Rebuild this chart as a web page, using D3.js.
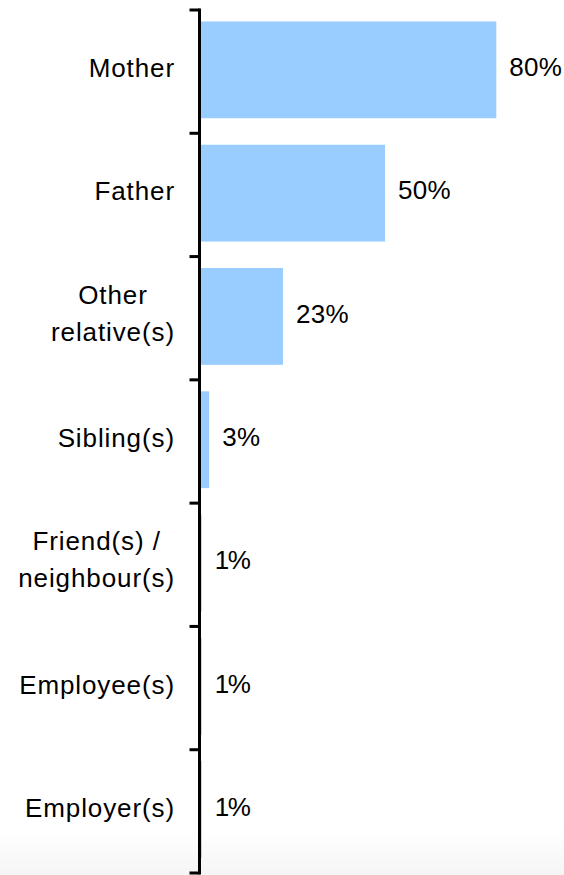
<!DOCTYPE html>
<html>
<head>
<meta charset="utf-8">
<script src="https://cdn.jsdelivr.net/npm/d3@7/dist/d3.min.js"></script>
<style>
  html, body { margin: 0; padding: 0; background: #ffffff; }
  svg { display: block; }
  text { font-family: "Liberation Sans", Arial, sans-serif; fill: #000; }
</style>
</head>
<body>
<svg id="chart" width="564" height="875"></svg>
<script>
const categories = ["Mother", "Father", "Other\nrelative(s)", "Sibling(s)", "Friend(s) /\nneighbour(s)", "Employee(s)", "Employer(s)"];
const values = [80, 50, 22.5, 2.6, 0.6, 0.6, 0.6];
const valueLabels = ["80%", "50%", "23%", "3%", "1%", "1%", "1%"];

const W = 564, H = 875;
const svg = d3.select("#chart");

// light grey fade at the bottom
const defs = svg.append("defs");
const grad = defs.append("linearGradient").attr("id", "fade").attr("x1", 0).attr("y1", 0).attr("x2", 0).attr("y2", 1);
grad.append("stop").attr("offset", "0%").attr("stop-color", "#ffffff");
grad.append("stop").attr("offset", "100%").attr("stop-color", "#f5f5f5");
svg.append("rect").attr("x", 0).attr("y", 830).attr("width", W).attr("height", H - 830).attr("fill", "url(#fade)");

const x = d3.scaleLinear().domain([0, 100]).range([199.5, 199.5 + 371]);
const y = d3.scaleBand().domain(categories).range([10, 873]).paddingInner(0).paddingOuter(0);
const bw = y.bandwidth();

// bars
svg.append("g").selectAll("rect").data(categories).join("rect")
  .attr("x", x(0))
  .attr("y", c => y(c) + bw * 0.093)
  .attr("width", (c, i) => x(values[i]) - x(0))
  .attr("height", bw * 0.785)
  .attr("fill", "#99ccff");

// axis
const yAxis = d3.axisLeft(y).tickSize(0).tickFormat("");
const ag = svg.append("g").attr("transform", `translate(${x(0)},0)`).call(yAxis);
ag.select(".domain").remove();
ag.append("line").attr("x1", 0).attr("x2", 0).attr("y1", 8.5).attr("y2", 874.5)
  .attr("stroke", "#000").attr("stroke-width", 3);
const tickPos = categories.map(c => y(c)).concat([y(categories[categories.length - 1]) + bw]);
ag.selectAll("line.tk").data(tickPos).join("line").attr("class", "tk")
  .attr("x1", -10).attr("x2", 0).attr("y1", d => d).attr("y2", d => d)
  .attr("stroke", "#000").attr("stroke-width", 3);

// category labels
const fs = 26, lineGap = 37;
const labG = svg.append("g");
categories.forEach((c, i) => {
  const lines = c.split("\n");
  const cy = y(c) + bw / 2;
  if (lines.length === 1) {
    labG.append("text").attr("x", 175).attr("y", cy + 5.5)
      .attr("text-anchor", "end").attr("font-size", fs).attr("letter-spacing", "0.9px").text(lines[0]);
  } else {
    // center the lines relative to each other, right edge of the block at 175
    const t = labG.append("text").attr("font-size", fs).attr("letter-spacing", "0.9px").attr("text-anchor", "middle");
    lines.forEach((l, k) => {
      t.append("tspan").attr("x", 0).attr("y", cy + 4 + (k - (lines.length - 1) / 2) * lineGap).text(l);
    });
    const bb = t.node().getBBox();
    t.attr("transform", `translate(${175 - bb.width / 2},0)`);
  }
});

// value labels
svg.append("g").selectAll("text").data(categories).join("text")
  .attr("x", (c, i) => Math.max(x(values[i]), x(0) + 2) + 13)
  .attr("y", c => y(c) + bw / 2 + 4.5)
  .attr("font-size", fs)
  .attr("letter-spacing", (c, i) => valueLabels[i] === "1%" ? "-1.5px" : "0.3px")
  .text((c, i) => valueLabels[i]);
</script>
</body>
</html>
